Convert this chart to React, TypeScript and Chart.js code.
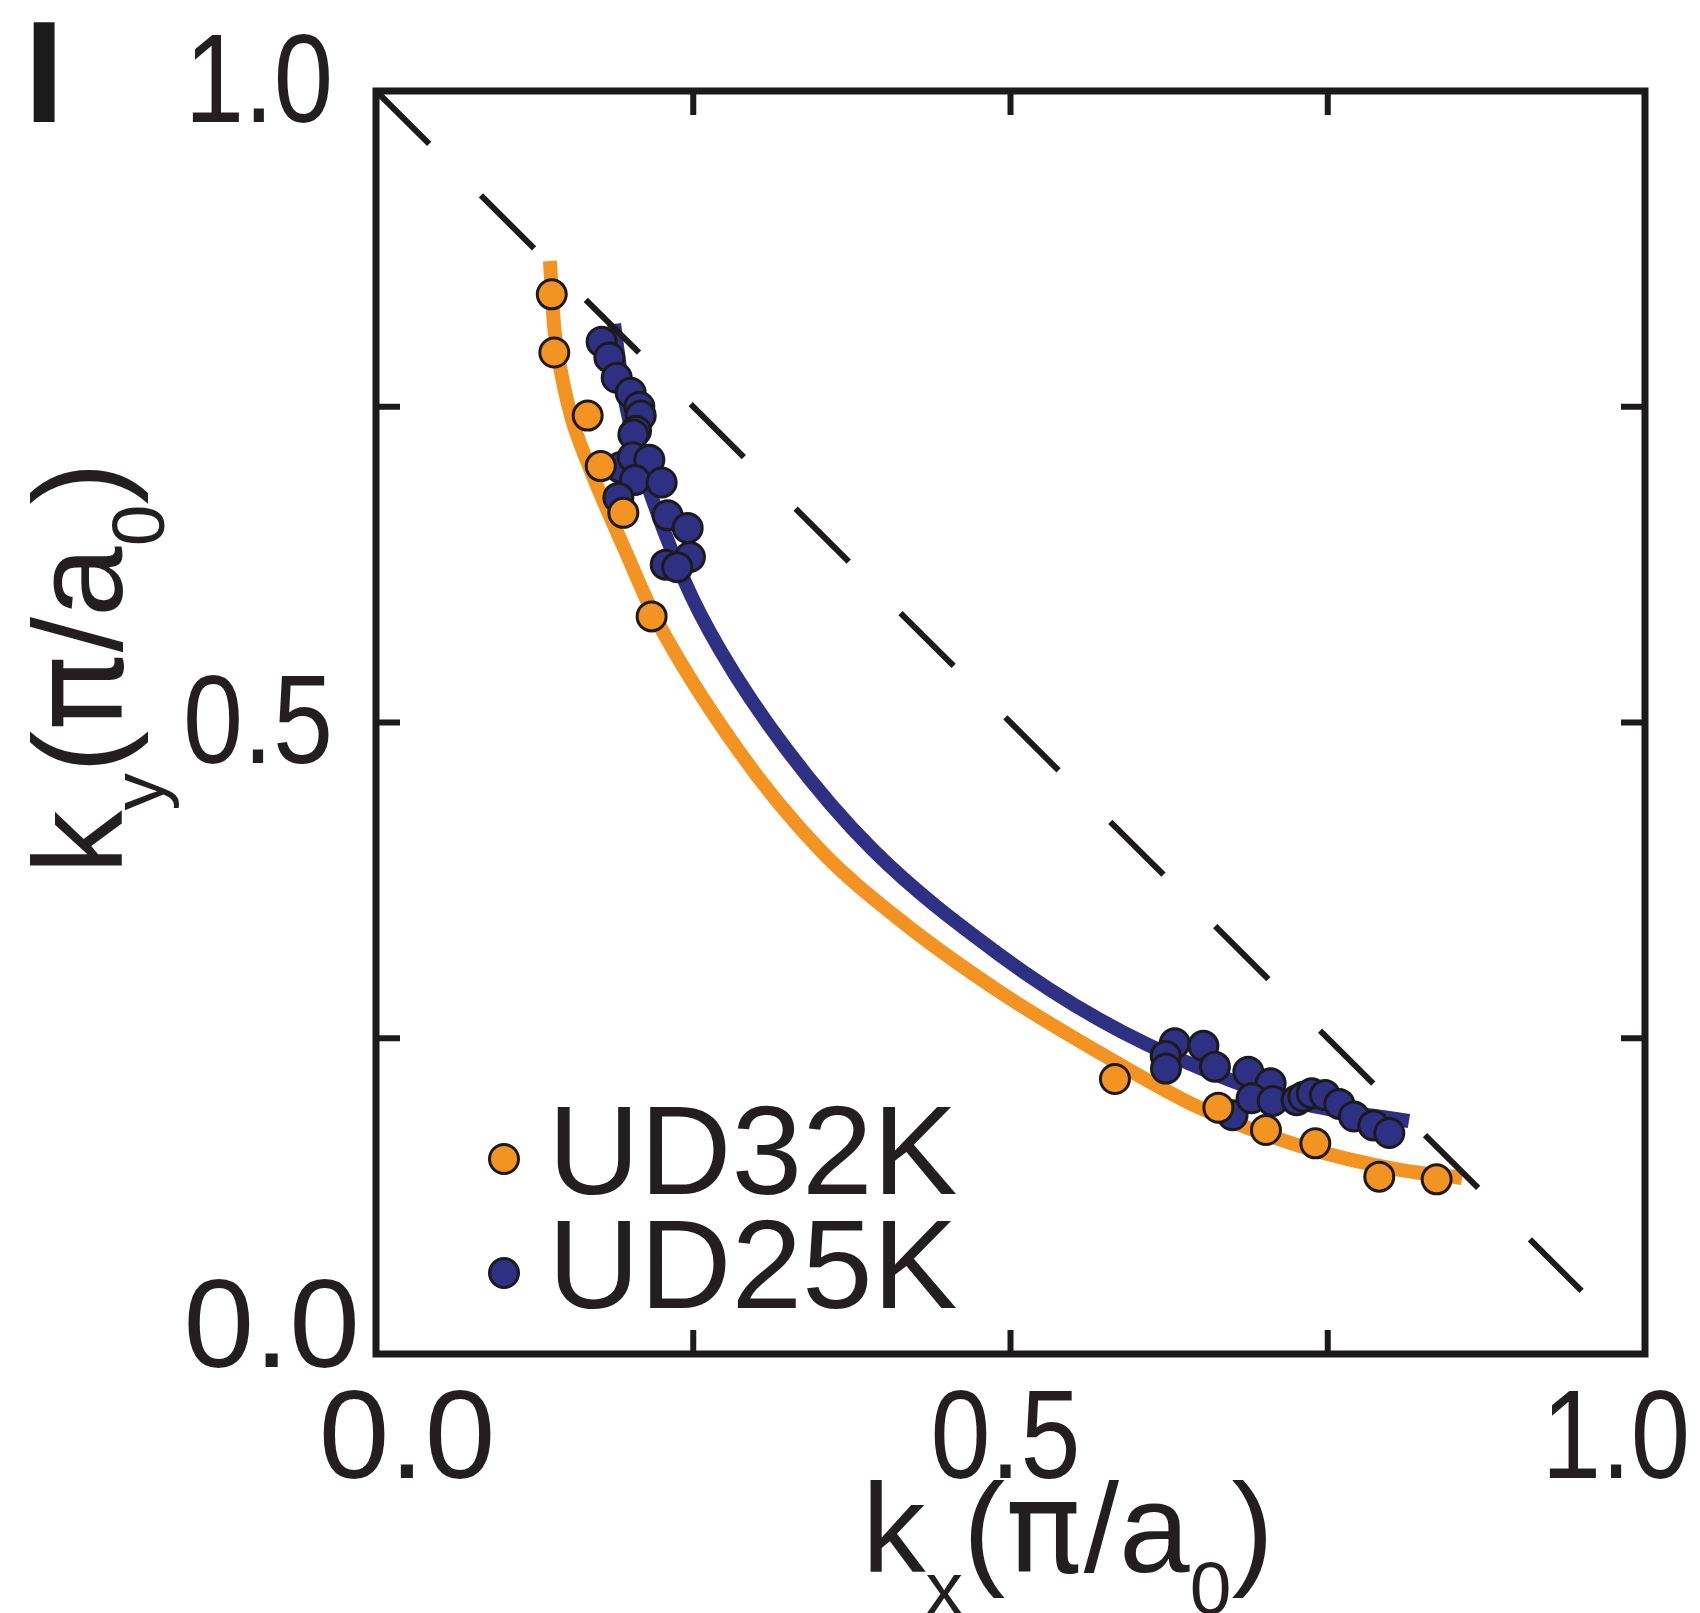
import React, { useEffect, useRef } from 'react';
import { Chart, registerables } from 'chart.js';

Chart.register(...registerables);

// Measured Fermi-surface points (units of pi/a0)
const UD32K_KX = [0.1385, 0.1405, 0.1668, 0.1771, 0.1949, 0.2172, 0.5823, 0.6638, 0.7013, 0.7402, 0.7906, 0.8358];
const UD32K_KY = [0.839, 0.793, 0.743, 0.703, 0.666, 0.584, 0.2177, 0.195, 0.1774, 0.1668, 0.1404, 0.1383];

const UD25K_KX = [
  0.1778, 0.1839, 0.1897, 0.2007, 0.2075, 0.2086, 0.2049, 0.2028, 0.1923, 0.2023, 0.2154, 0.2041, 0.2251,
  0.191, 0.2298, 0.2456, 0.2474, 0.2283, 0.2374,
  0.6294, 0.652, 0.6223, 0.6225, 0.6611, 0.6874, 0.705, 0.675, 0.69, 0.7066, 0.7255, 0.7308, 0.7374, 0.7478,
  0.7591, 0.7707, 0.786, 0.7985,
];
const UD25K_KY = [
  0.8015, 0.789, 0.773, 0.761, 0.75, 0.743, 0.731, 0.728, 0.702, 0.71, 0.708, 0.692, 0.69,
  0.678, 0.664, 0.654, 0.631, 0.625, 0.623,
  0.246, 0.244, 0.236, 0.226, 0.2275, 0.2235, 0.2143, 0.189, 0.2025, 0.2003, 0.201, 0.2037, 0.2064, 0.205,
  0.198, 0.188, 0.181, 0.175,
];

// Fitted contours
const FIT32_KX = [0.1371, 0.1387, 0.1405, 0.1445, 0.1537, 0.1678, 0.1962, 0.2199, 0.2853, 0.3499, 0.4129, 0.4917, 0.5705, 0.6493, 0.7281, 0.8069, 0.8558];
const FIT32_KY = [0.8654, 0.8377, 0.812, 0.7846, 0.7427, 0.7031, 0.6366, 0.5835, 0.4782, 0.3991, 0.3436, 0.2866, 0.2383, 0.1948, 0.1647, 0.1457, 0.1394];

const FIT25_KX = [0.1876, 0.1955, 0.208, 0.2435, 0.2711, 0.3239, 0.3917, 0.4917, 0.5705, 0.6493, 0.7281, 0.814];
const FIT25_KY = [0.8155, 0.7593, 0.7078, 0.6112, 0.5574, 0.4782, 0.399, 0.3159, 0.2645, 0.2264, 0.1987, 0.1845];

// Diagonal ky = 1 - kx
const DIAG_KX = [0, 0.95];
const DIAG_KY = [1, 0.05];

const TICK_VALUES = [0, 0.25, 0.5, 0.75, 1];
const TICK_LABELS = ['0.0', '', '0.5', '', '1.0'];
const SERIES_NAMES = ['UD32K', 'UD25K'];
const PANEL_LABEL = 'I';

const ORANGE = '#f39322';
const NAVY = '#2e3084';
const INK = '#1c1a1a';
const TEXT = '#231f20';
const FONT = '"Liberation Sans", Arial, Helvetica, sans-serif';
const PI_FONT = '"DejaVu Sans", "Liberation Sans", sans-serif';

const pts = (xs: number[], ys: number[]) => xs.map((x, i) => ({ x, y: ys[i] }));

type Piece = { t: string; sub?: boolean; gap?: number; pi?: boolean };

function drawRich(ctx: CanvasRenderingContext2D, pieces: Piece[], x: number, y: number) {
  let cx = x;
  for (const p of pieces) {
    ctx.font = `${p.sub ? 75 : 127}px ${p.pi ? PI_FONT : FONT}`;
    ctx.fillText(p.t, cx, y + (p.sub ? 42 : 0));
    cx += ctx.measureText(p.t).width + (p.gap || 0);
  }
}

const titlePieces = (axis: string): Piece[] => [
  { t: 'k' }, { t: axis, sub: true }, { t: '(' }, { t: 'π', pi: true, gap: 2 }, { t: '/' }, { t: 'a' }, { t: '0', sub: true }, { t: ')' },
];

const decorations = {
  id: 'decorations',
  afterDatasetsDraw(chart: any) {
    const { ctx, chartArea: a, scales } = chart;
    const xs = scales.x;
    const ys = scales.y;
    ctx.save();

    // frame
    ctx.strokeStyle = INK;
    ctx.lineWidth = 7;
    ctx.lineJoin = 'miter';
    ctx.strokeRect(a.left, a.top, a.right - a.left, a.bottom - a.top);

    // inward ticks on all four sides
    ctx.lineWidth = 6;
    ctx.lineCap = 'butt';
    const len = 24;
    TICK_VALUES.forEach((v) => {
      if (v <= 0 || v >= 1) return;
      const px = xs.getPixelForValue(v);
      const py = ys.getPixelForValue(v);
      ctx.beginPath();
      ctx.moveTo(px, a.top); ctx.lineTo(px, a.top + len);
      ctx.moveTo(px, a.bottom); ctx.lineTo(px, a.bottom - len);
      ctx.moveTo(a.left, py); ctx.lineTo(a.left + len, py);
      ctx.moveTo(a.right, py); ctx.lineTo(a.right - len, py);
      ctx.stroke();
    });

    // tick labels ("0.5" and "1.0" are set narrower than "0.0")
    ctx.fillStyle = TEXT;
    ctx.font = `127px ${FONT}`;
    ctx.textBaseline = 'alphabetic';
    const xShift: Record<string, number> = { '0': 31, '0.5': -5, '1': -29 };
    const yRight: Record<string, number> = { '0': -16, '0.5': -43, '1': -43 };
    const yBase: Record<string, number> = { '0': 13, '0.5': 40, '1': 31 };
    const squeeze: Record<string, number> = { '0': 1, '0.5': 0.85, '1': 0.84 };
    TICK_VALUES.forEach((v, i) => {
      const label = TICK_LABELS[i];
      if (!label) return;
      const k = String(v);
      const sx = squeeze[k];
      // bottom axis
      ctx.save();
      ctx.translate(xs.getPixelForValue(v) + xShift[k], a.bottom + 124);
      ctx.scale(sx, 1);
      ctx.textAlign = 'center';
      ctx.fillText(label, 0, 0);
      ctx.restore();
      // left axis
      ctx.save();
      ctx.translate(a.left + yRight[k], ys.getPixelForValue(v) + yBase[k]);
      ctx.scale(sx, 1);
      ctx.textAlign = 'right';
      ctx.fillText(label, 0, 0);
      ctx.restore();
    });

    // axis titles
    ctx.textAlign = 'left';
    drawRich(ctx, titlePieces('x'), 862, a.bottom + 218);
    ctx.save();
    ctx.translate(122, 874);
    ctx.rotate(-Math.PI / 2);
    drawRich(ctx, titlePieces('y'), 0, 0);
    ctx.restore();

    // legend
    const legendColors = [ORANGE, NAVY];
    const rowsY = [a.bottom - 195, a.bottom - 81];
    SERIES_NAMES.forEach((name, i) => {
      ctx.beginPath();
      ctx.arc(a.left + 128, rowsY[i], 14.5, 0, Math.PI * 2);
      ctx.fillStyle = legendColors[i];
      ctx.fill();
      ctx.lineWidth = 3;
      ctx.strokeStyle = INK;
      ctx.stroke();
      ctx.fillStyle = TEXT;
      ctx.font = `127px ${FONT}`;
      ctx.fillText(name, a.left + 172, rowsY[i] + 35);
    });

    // panel letter
    ctx.font = `bold 145px ${FONT}`;
    ctx.fillStyle = INK;
    ctx.fillText(PANEL_LABEL, 24, 122);

    ctx.restore();
  },
};

export default function App() {
  const ref = useRef<HTMLCanvasElement | null>(null);

  useEffect(() => {
    if (!ref.current) return;
    const chart = new Chart(ref.current, {
      type: 'scatter',
      data: {
        datasets: [
          {
            label: 'ky = 1 - kx',
            data: pts(DIAG_KX, DIAG_KY),
            showLine: true,
            borderColor: INK,
            borderWidth: 6,
            borderDash: [75, 73],
            borderCapStyle: 'butt',
            pointRadius: 0,
            order: -1,
            clip: false,
          },
          {
            label: SERIES_NAMES[0],
            data: pts(UD32K_KX, UD32K_KY),
            backgroundColor: ORANGE,
            borderColor: INK,
            borderWidth: 3,
            pointRadius: 14.5,
            order: 0,
            clip: false,
          },
          {
            label: SERIES_NAMES[1],
            data: pts(UD25K_KX, UD25K_KY),
            backgroundColor: NAVY,
            borderColor: INK,
            borderWidth: 3,
            pointRadius: 14.5,
            order: 1,
            clip: false,
          },
          {
            label: SERIES_NAMES[0] + ' fit',
            data: pts(FIT32_KX, FIT32_KY),
            showLine: true,
            borderColor: ORANGE,
            borderWidth: 14,
            borderCapStyle: 'butt',
            cubicInterpolationMode: 'monotone',
            pointRadius: 0,
            order: 2,
            clip: false,
          },
          {
            label: SERIES_NAMES[1] + ' fit',
            data: pts(FIT25_KX, FIT25_KY),
            showLine: true,
            borderColor: NAVY,
            borderWidth: 14,
            borderCapStyle: 'butt',
            cubicInterpolationMode: 'monotone',
            pointRadius: 0,
            order: 3,
            clip: false,
          },
        ],
      } as any,
      options: {
        responsive: false,
        animation: false,
        devicePixelRatio: 1,
        layout: { padding: { left: 376, right: 55, top: 91, bottom: 259 } },
        scales: {
          x: { type: 'linear', min: 0, max: 1, display: false },
          y: { type: 'linear', min: 0, max: 1, display: false },
        },
        plugins: { legend: { display: false }, tooltip: { enabled: false } },
      } as any,
      plugins: [decorations],
    });
    return () => chart.destroy();
  }, []);

  return (
    <div style={{ position: 'fixed', left: 0, top: 0, width: 1700, height: 1613, background: '#ffffff' }}>
      <canvas ref={ref} width={1700} height={1613} style={{ display: 'block' }} />
    </div>
  );
}
